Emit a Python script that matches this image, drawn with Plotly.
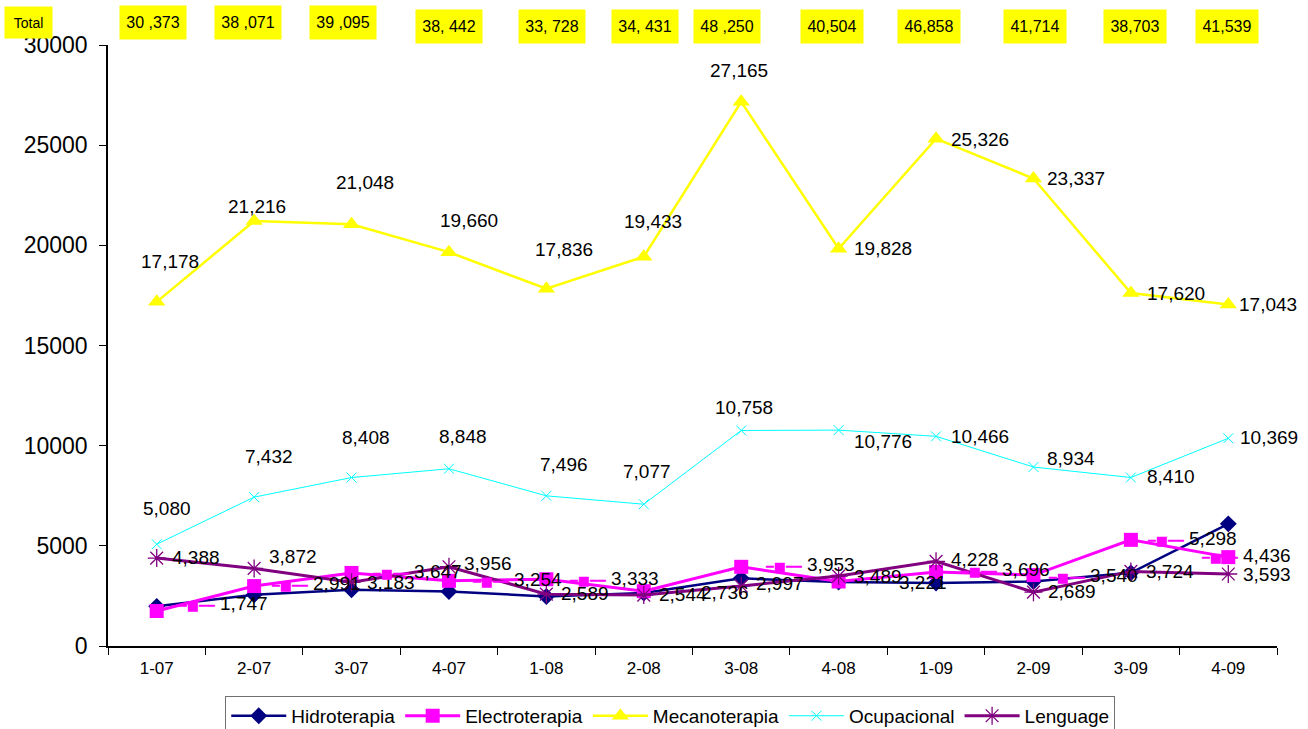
import plotly.graph_objects as go

# ---------------- data ----------------
CATEGORIES = ["1-07", "2-07", "3-07", "4-07", "1-08", "2-08",
              "3-08", "4-08", "1-09", "2-09", "3-09", "4-09"]
HIDROTERAPIA = [1980, 2560, 2809, 2724, 2474, 2641, 3377, 3190, 3142, 3214, 3651, 6098]
ELECTROTERAPIA = [1747, 2991, 3647, 3254, 3333, 2736, 3953, 3221, 3696, 3540, 5298, 4436]
MECANOTERAPIA = [17178, 21216, 21048, 19660, 17836, 19433, 27165, 19828, 25326, 23337, 17620, 17043]
OCUPACIONAL = [5080, 7432, 8408, 8848, 7496, 7077, 10758, 10776, 10466, 8934, 8410, 10369]
LENGUAGE = [4388, 3872, 3183, 3956, 2589, 2544, 2997, 3489, 4228, 2689, 3724, 3593]
TOTAL_TITLE = "Total"
TOTAL_LABELS = ["30 ,373", "38 ,071", "39 ,095", "38, 442", "33, 728", "34, 431",
                "48 ,250", "40,504", "46,858", "41,714", "38,703", "41,539"]
Y_TICKS = [0, 5000, 10000, 15000, 20000, 25000, 30000]

# ---------------- styles ----------------
FONT = "Arial, 'Liberation Sans', sans-serif"
C_HID, C_ELE, C_MEC, C_OCU, C_LEN = "#000080", "#FF00FF", "#FFFF00", "#00FFFF", "#800080"

# label placement (anchor, dx px, dy px up)
MEC_POS = [("center", 13, 40), ("center", 3, 14), ("center", 13, 42), ("center", 20, 32),
           ("center", 18, 39), ("center", 9, 35), ("center", -2, 31), ("left", 14, 0),
           ("left", 14, -1), ("left", 13, 0), ("left", 15, 0), ("left", 10, 0)]
OCU_POS = [("center", 10, 36), ("center", 15, 41), ("center", 14, 40), ("center", 14, 32),
           ("center", 18, 31), ("center", 3, 33), ("center", 3, 23), ("left", 14, -11),
           ("left", 14, 0), ("left", 13, 9), ("left", 15, 1), ("left", 11, 1)]
LEN_DY = [1, 12, 0, 3, 1, 1, 2, 0, 2, 1, 0, 0]
ELE_DX = [20, 16, 19, 22, 22, 56, 23, 59, 23, 14, 15, -28]
ELE_DY = [8, 3, 1, 1, 1, -1, 2, -1, 2, 0, 1, 2]
ELE_KEY = [True, True, True, True, True, False, True, False, True, True, True, True]
TOTAL_DX = [-4, -6, -9, 0, 6, 1, -14, -7, -7, 2, 4, -1]
TOTAL_DY = [23, 23, 23, 19, 19, 19, 19, 19, 19, 19, 19, 19]
TOTAL_W = [54, 54, 54, 54, 54, 54, 54, 50, 50, 50, 50, 50]

fig = go.Figure()

fig.add_trace(go.Scatter(x=CATEGORIES, y=HIDROTERAPIA, name="Hidroterapia", mode="lines+markers",
                         line=dict(color=C_HID, width=2.5),
                         marker=dict(symbol="diamond", size=13, color=C_HID)))
fig.add_trace(go.Scatter(x=CATEGORIES, y=ELECTROTERAPIA, name="Electroterapia", mode="lines+markers",
                         line=dict(color=C_ELE, width=3),
                         marker=dict(symbol="square", size=14, color=C_ELE)))
fig.add_trace(go.Scatter(x=CATEGORIES, y=MECANOTERAPIA, name="Mecanoterapia", mode="lines+markers",
                         line=dict(color=C_MEC, width=2.5),
                         marker=dict(symbol="triangle-up", size=15, color=C_MEC)))
fig.add_trace(go.Scatter(x=CATEGORIES, y=OCUPACIONAL, name="Ocupacional", mode="lines+markers",
                         line=dict(color=C_OCU, width=1),
                         marker=dict(symbol="x-thin", size=10, color=C_OCU,
                                     line=dict(color=C_OCU, width=1))))
fig.add_trace(go.Scatter(x=CATEGORIES, y=LENGUAGE, name="Lenguage", mode="lines+markers",
                         line=dict(color=C_LEN, width=3),
                         marker=dict(symbol="asterisk", size=15, color=C_LEN,
                                     line=dict(color=C_LEN, width=1.3))))

annotations = []
LBL_FONT = dict(family=FONT, size=19, color="black")


def lbl(cat, val, text, anchor, dx, dy):
    annotations.append(dict(x=cat, y=val, xref="x", yref="y", text=text, showarrow=False,
                            xanchor=anchor, yanchor="middle", xshift=dx, yshift=dy,
                            font=LBL_FONT, borderpad=0))


for c, v, (a, dx, dy) in zip(CATEGORIES, MECANOTERAPIA, MEC_POS):
    lbl(c, v, f"{v:,}", a, dx, dy)
for c, v, (a, dx, dy) in zip(CATEGORIES, OCUPACIONAL, OCU_POS):
    lbl(c, v, f"{v:,}", a, dx, dy)
for c, v, dy in zip(CATEGORIES, LENGUAGE, LEN_DY):
    lbl(c, v, f"{v:,}", "left", 14, dy)
KEY = ("<span style=\"font-family:'DejaVu Sans';font-size:13px;color:#FF00FF\">"
       "\u2501\u25A0\u2501\u2501</span> ")
for c, v, dx, dy, k in zip(CATEGORIES, ELECTROTERAPIA, ELE_DX, ELE_DY, ELE_KEY):
    lbl(c, v, (KEY if k else "") + f"{v:,}", "left", dx, dy)

# totals row (yellow boxes)
for c, t, dx, dy, w in zip(CATEGORIES, TOTAL_LABELS, TOTAL_DX, TOTAL_DY, TOTAL_W):
    annotations.append(dict(x=c, y=1, xref="x", yref="paper", text=t, showarrow=False,
                            xanchor="center", yanchor="middle", xshift=dx, yshift=dy,
                            width=w, height=21, borderpad=6, bgcolor="#FFFF00",
                            font=dict(family=FONT, size=16, color="black")))
annotations.append(dict(x=0, y=1, xref="paper", yref="paper", text=TOTAL_TITLE, showarrow=False,
                        xanchor="center", yanchor="middle", xshift=-80, yshift=23,
                        width=37, height=21, borderpad=5, bgcolor="#FFFF00",
                        font=dict(family=FONT, size=14, color="black")))

fig.update_layout(
    width=1308, height=729,
    margin=dict(l=108, r=31, t=45, b=83, pad=0, autoexpand=False),
    paper_bgcolor="white", plot_bgcolor="white",
    font=dict(family=FONT, color="black"),
    showlegend=True,
    legend=dict(orientation="h", x=0.1003, y=-0.083, xanchor="left", yanchor="top",
                bordercolor="#707070", borderwidth=1, bgcolor="white",
                font=dict(family=FONT, size=19, color="black"), itemwidth=55),
    annotations=annotations,
)
fig.update_xaxes(type="category", range=[-0.5, 11.5], tickson="boundaries", ticks="outside",
                 ticklen=7, tickcolor="black", showline=True, linecolor="black", linewidth=1.5,
                 showgrid=False, zeroline=False, ticklabelstandoff=6,
                 tickfont=dict(family=FONT, size=17, color="black"))
fig.update_yaxes(range=[0, 30000], tickvals=Y_TICKS, ticktext=[str(t) for t in Y_TICKS],
                 ticks="outside", ticklen=7, tickcolor="black", showline=True,
                 linecolor="black", linewidth=1.5, showgrid=False, zeroline=False,
                 ticklabelstandoff=7, tickfont=dict(family=FONT, size=23, color="black"))

fig.write_html("out.html", config={"displayModeBar": False},
               post_script="document.body.style.margin='0';")
